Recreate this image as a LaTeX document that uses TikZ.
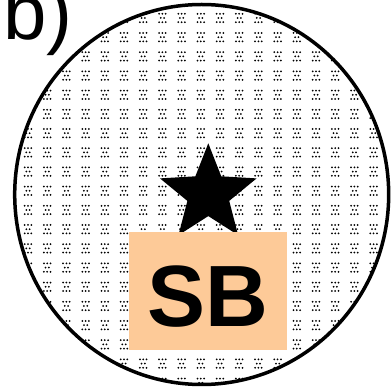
\documentclass[tikz,border=0pt]{standalone}
\usepackage{fontspec}
\setmainfont{Liberation Sans}
\usetikzlibrary{shapes.geometric}
\definecolor{peach}{RGB}{253,202,152}
\tikzset{
  cluster/.pic={\fill[black] (-3.3,-4.2) circle[radius=1] (0,-4.2) circle[radius=1] (3.3,-4.2) circle[radius=1]
     (-1.65,0) circle[radius=1] (1.65,0) circle[radius=1]
     (-3.3,4.2) circle[radius=1] (0,4.2) circle[radius=1] (3.3,4.2) circle[radius=1];},
  outline/.style={line width=3.5pt, draw=black},
  starshape/.style={star, star points=5, star point ratio=2.31, minimum size=101.6pt, inner sep=0pt, fill=black},
  sbbox/.style={fill=peach, minimum width=158pt, minimum height=118pt, inner sep=0pt},
  sbtext/.style={font=\fontsize{87}{87}\selectfont\bfseries, inner sep=0pt, anchor=base},
  paneltext/.style={font=\fontsize{78}{78}\selectfont, inner sep=0pt, anchor=base west}
}
\begin{document}
\begin{tikzpicture}[x=1pt,y=-1pt]
\useasboundingbox[fill=white] (0,0) rectangle (392,387);
\begin{scope}
  \clip (201.7,194.5) ellipse [x radius=187, y radius=190];
  \foreach \i in {0,...,20}
    \foreach \j in {-1,...,19}
      \pic at ({8.8+19.2*\i},{18+19.2*\j}) {cluster};
\end{scope}
\draw[outline] (201.7,194.5) ellipse [x radius=187, y radius=190];
\node[starshape] (star) at (208.3,194.1) {};
\node[sbbox] (box) at (208,291) {};
\node[sbtext] (sb) at (207.5,327) {SB};
\node[paneltext] (label) at (3,40) {b)};
\end{tikzpicture}
\end{document}
